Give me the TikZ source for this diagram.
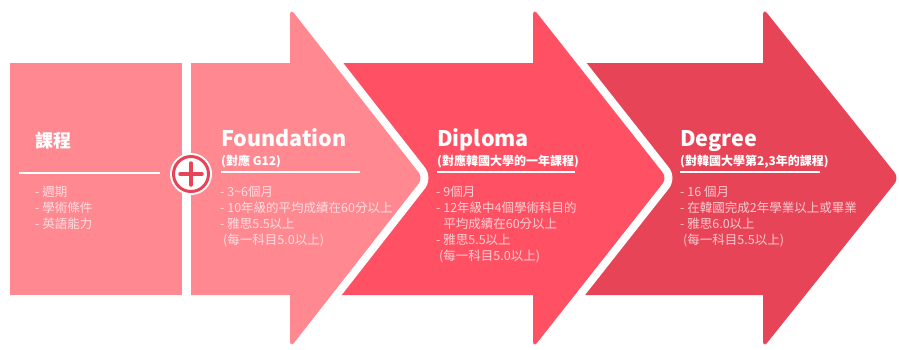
\documentclass[tikz,border=0pt]{standalone}
\usepackage{fontspec}
\setmainfont{Noto Sans CJK TC}
\definecolor{cpink}{HTML}{FF8891}
\definecolor{cred}{HTML}{FF5163}
\definecolor{cdeep}{HTML}{E84457}
\begin{document}
\begin{tikzpicture}[x=1pt,y=-1pt,
  arrowshape/.style={fill=#1, preaction={draw=white, line width=16pt, line join=round}},
  bigtitle/.style={anchor=base west, text=white, font=\fontsize{21.5}{21.5}\selectfont\bfseries, inner sep=0pt},
  lefttitle/.style={anchor=base west, text=white, font=\fontsize{18}{18}\selectfont\bfseries, inner sep=0pt},
  subtitle/.style={anchor=base west, text=white, font=\fontsize{12}{12}\selectfont\bfseries, inner sep=0pt},
  items/.style={anchor=base west, text=white, text opacity=0.72, font=\fontsize{12.5}{16}\selectfont, align=left, inner sep=0pt},
  rule/.style={draw=white, line width=2pt},
]
\useasboundingbox (0,0) rectangle (899,349);
% Degree arrow
\path[arrowshape=cdeep] (560,63) -- (763,63) [rounded corners=7pt] -- (763,8) -- (899,178) -- (763,348) [sharp corners] -- (763,295) -- (560,295) -- cycle;
% Diploma arrow
\path[arrowshape=cred] (300,63) -- (533,63) [rounded corners=7pt] -- (533,8) -- (667,178) -- (533,348) [sharp corners] -- (533,295) -- (300,295) -- cycle;
% Foundation arrow
\path[arrowshape=cpink] (191,63) -- (290,63) [rounded corners=7pt] -- (290,8) -- (423,178) -- (290,348) [sharp corners] -- (290,295) -- (191,295) -- cycle;
% left box
\fill[cpink] (10,63) rectangle (182,295);

% plus circle
\node[circle, fill=white, minimum size=42pt, inner sep=0pt] (plus) at (191,174) {};
\draw[cdeep, line width=3pt] (plus.center) circle[radius=17.5];
\draw[cdeep, line width=3.5pt, line cap=round] ([xshift=-11pt]plus.center) -- ([xshift=11pt]plus.center);
\draw[cdeep, line width=3.5pt, line cap=round] ([yshift=-11pt]plus.center) -- ([yshift=11pt]plus.center);

% left box text (base anchor = baseline of last line; first line baseline 196, step 16)
\node[lefttitle] (kt) at (35,147) {課程};
\draw[rule] (19,173) -- (160,173);
\node[items] (ki) at (35,228) {- 週期\\- 學術條件\\- 英語能力};

% Foundation text
\node[bigtitle] (ft) at (221,146.5) {Foundation};
\node[subtitle] (fs) at (221,165.5) {(對應 G12)};
\draw[rule] (221,172) -- (360,172);
\node[items] (fi) at (220,244) {- 3\textasciitilde 6個月\\- 10年級的平均成績在60分以上\\- 雅思5.5以上\\\hspace{3pt}(每一科目5.0以上)};

% Diploma text
\node[bigtitle] (dt) at (437,146.5) {Diploma};
\node[subtitle] (ds) at (437,165.5) {(對應韓國大學的一年課程)};
\draw[rule] (437,172) -- (575,172);
\node[items] (di) at (436,260) {- 9個月\\- 12年級中4個學術科目的\\\phantom{- }平均成績在60分以上\\- 雅思5.5以上\\\hspace{3pt}(每一科目5.0以上)};

% Degree text
\node[bigtitle] (gt) at (680,146.5) {Degree};
\node[subtitle] (gs) at (680,165.5) {(對韓國大學第2,3年的課程)};
\draw[rule] (680,172) -- (820,172);
\node[items] (gi) at (680,244) {- 16 個月\\- 在韓國完成2年學業以上或畢業\\- 雅思6.0以上\\\hspace{3pt}(每一科目5.5以上)};
\end{tikzpicture}
\end{document}
